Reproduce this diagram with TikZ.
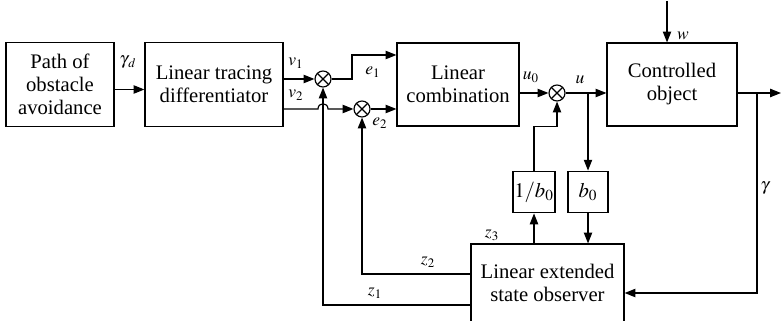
\documentclass[tikz,border=0pt]{standalone}
\usepackage{mathptmx}
\usepackage[no-math]{fontspec}
\setmainfont{Liberation Serif}
\usepackage{tikz}
\usetikzlibrary{positioning, arrows.meta, calc}
\tikzset{
    % Block styles
    block/.style={rectangle, draw, line width=0.7pt, align=center,
                  font=\fontsize{12.4}{13.8}\selectfont, inner sep=0pt},
    gain block/.style={block, minimum width=24pt, minimum height=25pt},
    % Summing junction
    summer/.style={circle, draw, line width=0.7pt, minimum size=9.6pt, inner sep=0pt,
                   path picture={\draw[line width=0.7pt]
                     (path picture bounding box.north west) -- (path picture bounding box.south east)
                     (path picture bounding box.north east) -- (path picture bounding box.south west);}},
    % Arrow styles
    arrow/.style={-{Triangle[length=6.5pt, width=5pt]}, line width=0.7pt},
    line/.style={line width=0.7pt},
    % Annotation styles
    sig/.style={font=\fontsize{10.5}{12}\selectfont, inner sep=0pt},
}

\begin{document}
\begin{tikzpicture}[x=0.6pt, y=-0.6pt]
    \useasboundingbox (0,0) rectangle (781,321);

    % Boxes
    \node[block, minimum width=64.8pt, minimum height=50.4pt] (path) at (60,84.5) {Path of\\obstacle\\avoidance};
    \node[block, minimum width=82.8pt, minimum height=50.4pt] (ltd) at (214,84.5) {Linear tracing\\differentiator};
    \node[block, minimum width=73.2pt, minimum height=49.8pt] (lincomb) at (458,84.5) {Linear\\combination};
    \node[block, minimum width=78pt, minimum height=49.8pt] (plant) at (672,84.5) {Controlled\\object};
    \node[gain block, minimum width=25.2pt] (invb) at (534,192) {$1/b_0$};
    \node[gain block] (bzero) at (588,192) {$b_0$};
    \node[block, minimum width=91.8pt, minimum height=46.8pt] (leso) at (547.5,283) {Linear extended\\state observer};

    % Summing junctions
    \node[summer] (sum1) at (323,79) {};
    \node[summer] (sum2) at (362,109) {};
    \node[summer] (sum3) at (557,93) {};

    % Helper points
    \coordinate (wtop) at (667,1);
    \coordinate (out) at (781,93);
    \coordinate (ubr) at (588,93);
    \coordinate (ybr) at (757,93);
    \coordinate (ybot) at (757,293);
    \coordinate (e1bend) at (352,55);
    \coordinate (z1c) at (471,305);
    \coordinate (z2c) at (471,274);

    % Arrows
    \draw[arrow] ([yshift=-3pt]path.east) -- ([yshift=-3pt]ltd.west);
    \draw[arrow] (ltd.east |- sum1) -- (sum1.west);
    \draw[arrow] (ltd.east |- sum2) -- ($(sum1 |- sum2)+(-5,0)$)
        .. controls ($(sum1 |- sum2)+(-5,-7)$) and ($(sum1 |- sum2)+(5,-7)$) .. ($(sum1 |- sum2)+(5,0)$)
        -- (sum2.west);
    \draw[arrow] (sum1.east) -| (e1bend) -- (e1bend -| lincomb.west);
    \draw[arrow] (sum2.east) -- (sum2 -| lincomb.west);
    \draw[arrow] (lincomb.east |- sum3) -- (sum3.west);
    \draw[arrow] (sum3.east) -- (sum3 -| plant.west);
    \draw[arrow] (wtop) -- (wtop |- plant.north);
    \draw[arrow] (plant.east |- out) -- (out);
    \draw[arrow] (ubr) -- (bzero.north);
    \draw[arrow] (bzero.south) -- (bzero.south |- leso.north);
    \draw[arrow] (invb.south |- leso.north) -- (invb.south);
    \draw[arrow] (invb.north) |- (sum3 |- lincomb.south) -- (sum3.south);
    \draw[arrow] (ybr) -- (ybot) -- (ybot -| leso.east);
    \draw[arrow] (z2c) -| (sum2.south);
    \draw[arrow] (z1c) -| (sum1.south);

    % Labels
    \node[sig] (lgd) at (128,62) {$\gamma_{\,d}$};
    \node[sig] (lv1) at (296,63) {$v_1$};
    \node[sig] (lv2) at (296,95) {$v_2$};
    \node[sig] (le1) at (373,72) {$e_1$};
    \node[sig] (le2) at (380,123) {$e_2$};
    \node[sig] (lu0) at (531,77) {$u_0$};
    \node[sig] (lu) at (580,80) {$u$};
    \node[sig] (lw) at (683,36) {$w$};
    \node[sig] (lg) at (765,188) {$\gamma$};
    \node[sig] (lz3) at (492,235) {$z_3$};
    \node[sig] (lz2) at (428,262) {$z_2$};
    \node[sig] (lz1) at (375,293) {$z_1$};
\end{tikzpicture}
\end{document}
